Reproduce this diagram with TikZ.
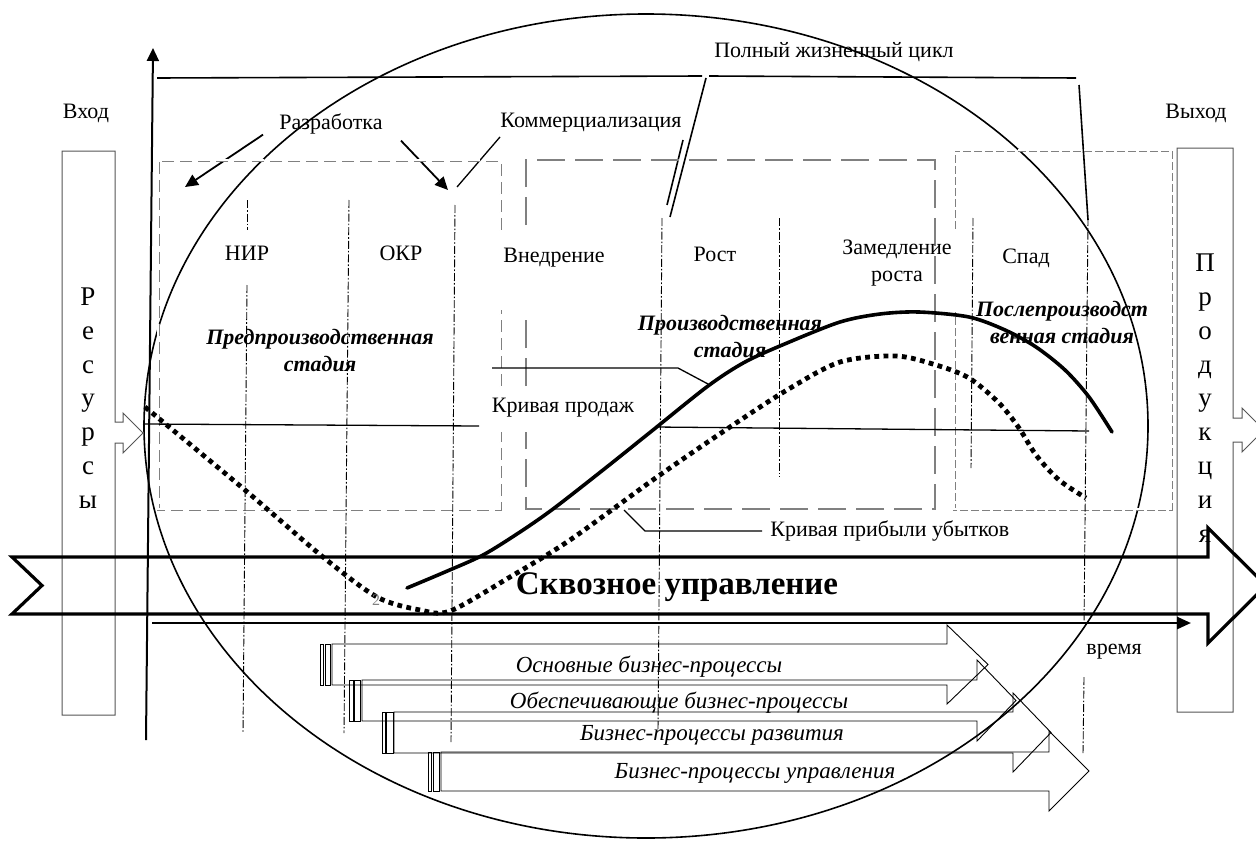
\documentclass[tikz,border=0pt]{standalone}
\usepackage{fontspec}
\setmainfont{Liberation Serif}
\usetikzlibrary{arrows.meta}
\definecolor{boxgray}{HTML}{808080}
\definecolor{frame}{HTML}{555555}
\tikzset{
  lbl/.style={font=\fontsize{11}{13.5}\selectfont, inner sep=0pt, align=center},
  stagelbl/.style={font=\fontsize{11}{13.5}\selectfont\bfseries\itshape, inner sep=0pt, align=center},
  proclbl/.style={font=\fontsize{11.5}{13}\selectfont\itshape, inner sep=0pt},
  letters/.style={font=\fontsize{13.5}{16.9}\selectfont, inner sep=0pt, align=center},
  divider/.style={line width=0.45pt, dash pattern=on 4pt off 1pt on 0.8pt off 1pt},
  boxa/.style={draw=boxgray, double, double distance=0.7pt, line width=0.4pt, dash pattern=on 6pt off 3pt},
  boxb/.style={draw=boxgray, line width=0.8pt, dash pattern=on 14pt off 5pt},
  boxc/.style={draw=boxgray, double, double distance=0.7pt, line width=0.4pt, dash pattern=on 4pt off 1.5pt},
  bracket/.style={line width=0.8pt},
  callout/.style={line width=0.65pt},
  pointer/.style={-{Triangle[length=6.5pt,width=6pt]}, line width=0.9pt},
  axis/.style={-{Triangle[length=6.5pt,width=6pt]}, line width=1pt},
  timeax/.style={-{Triangle[length=7pt,width=6pt]}, line width=1.3pt},
  sales/.style={line width=1.8pt, line cap=round},
  profit/.style={line width=2.4pt, dash pattern=on 2.4pt off 2.2pt},
  bigarrow/.style={line width=1.6pt, miter limit=10},
  proc/.style={line width=0.45pt},
  sidebox/.style={draw=frame, line width=0.5pt},
}
\begin{document}
\begin{tikzpicture}[x=0.5pt, y=-0.5pt]
  \useasboundingbox (0,0) rectangle (1256,840);
  \clip (0,0) rectangle (1256,840);
  % life cycle ellipse
  \draw[line width=0.8pt] (646,426) ellipse [x radius=502, y radius=412];
  % input and output
  \node[lbl] (entry) at (86,113) {Вход};
  \node[lbl] (exit) at (1196,113) {Выход};
  \draw[sidebox] (62,151) -- (115,151) -- (115,422) -- (123,422) -- (123,413) -- (143,433) -- (123,453) -- (123,443) -- (115,443) -- (115,715) -- (62,715) -- cycle;
  \node[letters] (res) at (88,398) {Р\\е\\с\\у\\р\\с\\ы};
  \draw[sidebox] (1177,148) -- (1233,148) -- (1233,418) -- (1242,418) -- (1242,408) -- (1264,430) -- (1242,452) -- (1242,442) -- (1233,442) -- (1233,712) -- (1177,712) -- cycle;
  \node[letters] (output) at (1205,398) {П\\р\\о\\д\\у\\к\\ц\\и\\я};
  % full life cycle
  \node[lbl] (life) at (834,52) {Полный жизненный цикл};
  \coordinate (lifeA) at (706,78);
  \coordinate (lifeB) at (683,140);
  \coordinate (lifeC) at (1079,85);
  \coordinate (growthTop) at (670,217);
  \coordinate (growthTop2) at (667,205);
  \coordinate (declineTop) at (1088,220);
  \draw[bracket] (157,78) -- (702,76);
  \draw[bracket] (709,76) -- (1076,78);
  \draw[bracket] (lifeA) -- (growthTop);
  \draw[bracket] (lifeB) -- (growthTop2);
  \draw[bracket] (lifeC) -- (declineTop);
  % development and commercialization
  \node[lbl] (dev) at (331,124) {Разработка};
  \node[lbl] (comm) at (591,123) {Коммерциализация};
  \coordinate (nirArr) at (185,187);
  \coordinate (okrArr) at (448,190);
  \coordinate (commEnd) at (457,187);
  \draw[pointer] ([xshift=-8pt]dev.south west) -- (nirArr);
  \draw[pointer] ([shift={(9pt,-3pt)}]dev.south east) -- (okrArr);
  \draw[callout] ([yshift=-2pt]comm.south west) -- (commEnd);
  % stage frames
  \draw[boxa] (500,230) -- (500,160) -- (158,160) -- (158,509) -- (500,509) -- (500,432);
  \draw[boxa] (500,386) -- (500,310);
  \draw[boxb] (526,225) -- (526,160) -- (935,160) -- (935,509) -- (526,509) -- (526,432);
  \draw[boxb] (526,386) -- (526,310);
  \draw[boxc] (954,229) -- (954,150) -- (1171,150) -- (1171,509) -- (954,509) -- (954,312);
  % phase dividers
  \draw[divider] (247,200) -- (247,230);
  \draw[divider] (247,285) -- (243,733);
  \draw[divider] (349,200) -- (344,733);
  \draw[divider] (455,205) -- (451,742);
  \draw[divider] (662,218) -- (658,730);
  \draw[divider] (779,218) -- (779,477);
  \draw[divider] (973,218) -- (971,468);
  \draw[divider] (1088,218) -- (1084,625);
  \draw[divider] (1084,677) -- (1083,753);
  % phases
  \node[lbl] (nir) at (247,253) {НИР};
  \node[lbl] (okr) at (401,253) {ОКР};
  \node[lbl] (intro) at (554,258) {Внедрение};
  \node[lbl] (growth) at (715,254) {Рост};
  \node[lbl] (slow) at (897,263) {Замедление\\роста};
  \node[lbl] (decline) at (1026,258) {Спад};
  % stages
  \node[stagelbl] (pre) at (320,350) {Предпроизводственная\\стадия};
  \node[stagelbl] (prod) at (730,336) {Производственная\\стадия};
  \node[stagelbl] (post) at (1062,322) {Послепроизводст\\венная стадия};
  % axes
  \draw[axis] (146,740) -- (153,48);
  \draw[callout] (143,424) -- (479,426);
  \draw[callout] (655,427) -- (1089,431);
  % curves
  \draw[profit] plot[smooth] coordinates {(145,407) (245,490) (323,557) (377,597) (420,610) (450,611) (510,577) (570,540) (657,477) (730,427) (787,390) (840,362) (896,356) (936,365) (969,378) (999,403) (1019,428) (1036,455) (1059,480) (1086,498)};
  \draw[sales] plot[smooth] coordinates {(407,588) (445,572) (483,555) (520,532) (553,509) (603,470) (653,430) (708,386) (745,362) (787,343) (840,322) (880,314) (919,312) (969,317) (1005,330) (1036,347) (1065,370) (1089,397) (1112,432)};
  \node[font=\fontsize{8}{9}\selectfont, text=gray, inner sep=0pt] (two) at (376,600) {2};
  \node[lbl] (salesLbl) at (563,408) {Кривая продаж};
  \coordinate (salesStart) at (492,368);
  \coordinate (salesBend) at (678,368);
  \coordinate (salesPt) at (708,384);
  \draw[callout] (salesStart) -- (salesBend) -- (salesPt);
  \node[lbl, anchor=west] (profitLbl) at (770,531) {Кривая прибыли убытков};
  \coordinate (profitBend) at (645,531);
  \coordinate (profitPt) at (624,510);
  \draw[callout] ([xshift=-4pt]profitLbl.west) -- (profitBend) -- (profitPt);
  % end-to-end management
  \draw[bigarrow] (12,557) -- (1208,557) -- (1208,528) -- (1266,585.5) -- (1208,643) -- (1208,614) -- (12,614) -- (42,585.5) -- cycle;
  \node[font=\fontsize{16.5}{18}\selectfont\bfseries, inner sep=0pt] (through) at (677,587) {Сквозное управление};
  \draw[timeax] (152,623) -- (1191,623);
  \node[lbl] (time) at (1114,652) {время};
  % business processes
  \draw[proc] (320,644) rectangle (323,685) (325,644) rectangle (330,685);
  \draw[proc] (332,644) -- (947,644) -- (947,625) -- (988,664.5) -- (947,704) -- (947,685) -- (332,685) -- cycle;
  \draw[proc] (349,680) rectangle (353,721) (354,680) rectangle (360,721);
  \draw[proc] (362,680) -- (977,680) -- (977,660) -- (1016,700.5) -- (977,741) -- (977,721) -- (362,721) -- cycle;
  \draw[proc] (382,712) rectangle (385,753) (386,712) rectangle (393,753);
  \draw[proc] (394,712) -- (1013,712) -- (1013,693) -- (1051,732.5) -- (1013,772) -- (1013,753) -- (394,753) -- cycle;
  \draw[proc] (428,752) rectangle (431,791) (433,752) rectangle (439,791);
  \draw[proc] (441,752) -- (1049,752) -- (1049,731) -- (1089,771) -- (1049,811) -- (1049,791) -- (441,791) -- cycle;
  \node[proclbl] (p1) at (649,667) {Основные бизнес-процессы};
  \node[proclbl] (p2) at (679,703) {Обеспечивающие бизнес-процессы};
  \node[proclbl] (p3) at (712,735) {Бизнес-процессы развития};
  \node[proclbl] (p4) at (755,773) {Бизнес-процессы управления};
\end{tikzpicture}
\end{document}
